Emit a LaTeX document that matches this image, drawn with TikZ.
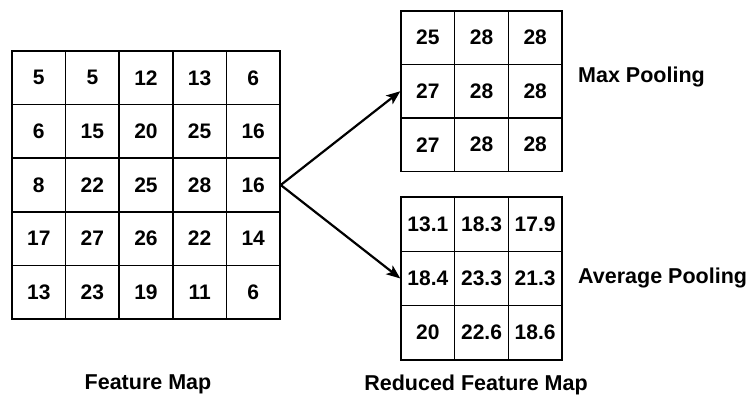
\documentclass[tikz,border=0pt]{standalone}
\usepackage{fontspec}
\setmainfont{Liberation Sans}
\usetikzlibrary{arrows.meta}
\tikzset{
  cell/.style={draw=black, line width=1.5pt, inner sep=0pt, minimum width=53.6pt, minimum height=53.6pt, font=\fontsize{21}{25}\selectfont\bfseries},
  lbl/.style={font=\fontsize{21.5}{25}\selectfont\bfseries, inner sep=0pt},
  conn/.style={line width=2.2pt, -{Stealth[length=14pt,width=11pt,inset=3.5pt]}}
}
\begin{document}
\begin{tikzpicture}[x=1pt,y=-1pt]
\useasboundingbox (0,0) rectangle (746,398);
% Feature map 5x5
\foreach \row [count=\r] in {{5,5,12,13,6},{6,15,20,25,16},{8,22,25,28,16},{17,27,26,22,14},{13,23,19,11,6}}{
  \foreach \v [count=\c] in \row {
    \node[cell] (L-\r-\c) at ({12+53.6*(\c-0.5)},{51+53.6*(\r-0.5)}) {\v};
  }
}
% Max pooling 3x3
\foreach \row [count=\r] in {{25,28,28},{27,28,28},{27,28,28}}{
  \foreach \v [count=\c] in \row {
    \node[cell, minimum height=53.5pt] (T-\r-\c) at ({401+53.67*(\c-0.5)},{11+53.5*(\r-0.5)}) {\v};
  }
}
% Average pooling 3x3
\foreach \row [count=\r] in {{13.1,18.3,17.9},{18.4,23.3,21.3},{20,22.6,18.6}}{
  \foreach \v [count=\c] in \row {
    \node[cell, minimum height=54.3pt] (B-\r-\c) at ({401+53.67*(\c-0.5)},{197+54.3*(\r-0.5)}) {\v};
  }
}
\draw[conn] (L-3-5.east) -- (T-2-1.west);
\draw[conn] (L-3-5.east) -- (B-2-1.west);
\node[lbl, anchor=west] (maxl) at (578,77) {Max Pooling};
\node[lbl, anchor=west] (avgl) at (578,278) {Average Pooling};
\node[lbl] (fm) at (148,384.5) {Feature Map};
\node[lbl] (rfm) at (476,384.5) {Reduced Feature Map};
\end{tikzpicture}
\end{document}
